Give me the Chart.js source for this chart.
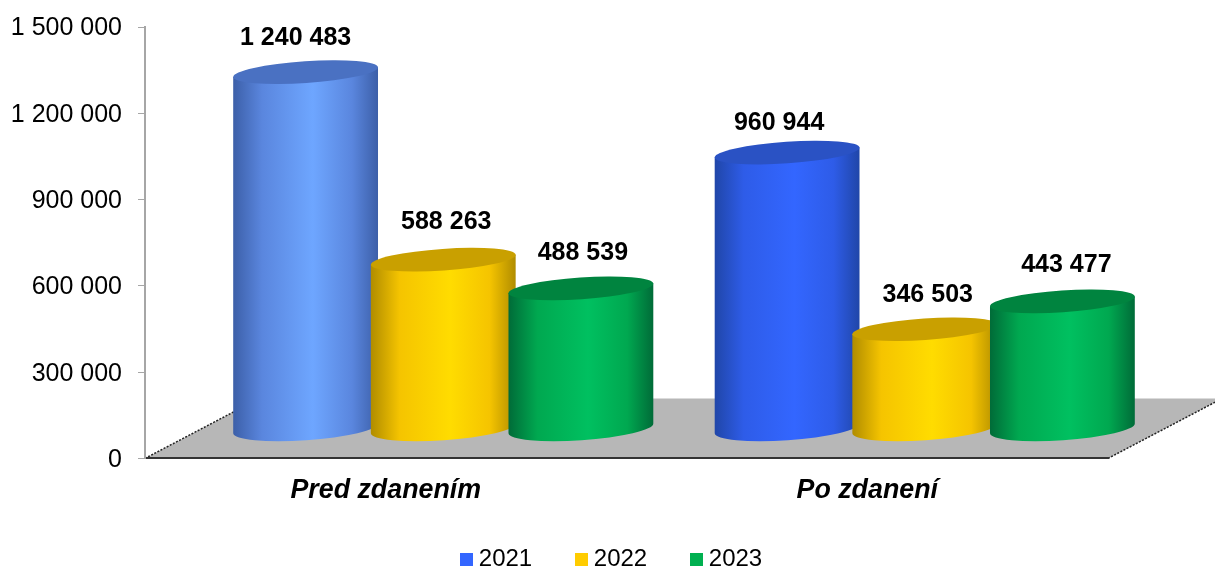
<!DOCTYPE html>
<html>
<head>
<meta charset="utf-8">
<style>html,body{margin:0;padding:0;background:#fff}#wrap{width:1215px;height:569px;position:relative}</style>
<script src="https://cdn.jsdelivr.net/npm/chart.js@4/dist/chart.umd.min.js"></script>
</head>
<body>
<div id="wrap"><canvas id="c" width="1215" height="569"></canvas></div>
<script>
const categories = ['Pred zdanením', 'Po zdanení'];
const seriesNames = ['2021', '2022', '2023'];
const values2021 = [1240483, 960944];
const values2022 = [588263, 346503];
const values2023 = [488539, 443477];
const yTicks = [0, 300000, 600000, 900000, 1200000, 1500000];

const FONT = '"Liberation Sans", Arial, sans-serif';
const fmt = v => String(v).replace(/\B(?=(\d{3})+$)/g, ' ');

const palettes = [
  [{edge:'#3c5fa8',shade:'#5a86de',mid:'#6ea6ff',top:'#4a71c2',flat:'#6699ff'},
   {edge:'#2046a8',shade:'#2e5ce8',mid:'#3366ff',top:'#2a52c4',flat:'#3366ff'}],
  [{edge:'#b08c00',shade:'#f5c400',mid:'#ffdc00',top:'#c9a000',flat:'#ffcc00'},
   {edge:'#b08c00',shade:'#f5c400',mid:'#ffdc00',top:'#c9a000',flat:'#ffcc00'}],
  [{edge:'#006b38',shade:'#00a850',mid:'#00c060',top:'#00843f',flat:'#00b050'},
   {edge:'#006b38',shade:'#00a850',mid:'#00c060',top:'#00843f',flat:'#00b050'}]
];
const legendColors = ['#3366ff', '#ffcc00', '#00b050'];

const DX = 57.5, DY = -29.5, MINOR = 10.8, TILT = -3.9 * Math.PI / 180;
const FLOOR_BACK = 60, FLOOR_SLOPE = 0.525;
const labelNudge = [[[-10,-34],[-8,-29]],[[3,-38],[3,-34]],[[2,-35],[4,-36]]];

function swatch(color) {
  const s = document.createElement('canvas');
  s.width = 13; s.height = 13;
  const g = s.getContext('2d');
  g.fillStyle = color; g.fillRect(0, 0, 13, 13);
  return s;
}
const swatches = legendColors.map(swatch);

function cylinder(ctx, el, pal) {
  const cx = el.x + DX, a = el.width / 2;
  const topY = el.y + DY, baseY = el.base + DY;
  const ex = a * Math.cos(TILT), ey = a * Math.sin(TILT);
  const g = ctx.createLinearGradient(cx - a, 0, cx + a, 0);
  g.addColorStop(0, pal.edge);
  g.addColorStop(0.2, pal.shade);
  g.addColorStop(0.55, pal.mid);
  g.addColorStop(0.82, pal.shade);
  g.addColorStop(1, pal.edge);
  ctx.fillStyle = g;
  ctx.beginPath();
  ctx.moveTo(cx - ex, topY - ey);
  ctx.lineTo(cx - ex, baseY - ey);
  ctx.ellipse(cx, baseY, a, MINOR + 1, TILT, Math.PI, 0, true);
  ctx.lineTo(cx + ex, topY + ey);
  ctx.closePath();
  ctx.fill();
  ctx.fillStyle = pal.top;
  ctx.beginPath();
  ctx.ellipse(cx, topY, a, MINOR, TILT, 0, Math.PI * 2);
  ctx.fill();
}

const scene = {
  id: 'scene',
  beforeDraw(chart) {
    const {ctx, chartArea: ca} = chart;
    const y0 = chart.scales.y.getPixelForValue(0);
    const xL = ca.left, xR = ca.right;
    const backY = y0 - FLOOR_BACK, run = FLOOR_BACK / FLOOR_SLOPE;
    ctx.save();
    ctx.fillStyle = '#b7b7b7';
    ctx.beginPath();
    ctx.moveTo(xL, y0);
    ctx.lineTo(xL + run, backY);
    ctx.lineTo(xR + run, backY);
    ctx.lineTo(xR, y0);
    ctx.closePath();
    ctx.fill();
    ctx.strokeStyle = '#222';
    ctx.lineWidth = 1.5;
    ctx.setLineDash([2, 1.5]);
    ctx.beginPath();
    ctx.moveTo(xL, y0); ctx.lineTo(xL + run, backY);
    ctx.moveTo(xR, y0); ctx.lineTo(xR + run, backY);
    ctx.stroke();
    ctx.restore();
  },
  beforeDatasetsDraw(chart) {
    const ctx = chart.ctx;
    ctx.save();
    chart.data.datasets.forEach((ds, d) => {
      chart.getDatasetMeta(d).data.forEach((el, i) => cylinder(ctx, el, palettes[d][i]));
    });
    ctx.fillStyle = '#000';
    ctx.font = 'bold 25px ' + FONT;
    ctx.textAlign = 'center';
    ctx.textBaseline = 'middle';
    chart.data.datasets.forEach((ds, d) => {
      chart.getDatasetMeta(d).data.forEach((el, i) => {
        const [nx, ny] = labelNudge[d][i];
        ctx.fillText(fmt(ds.data[i]), el.x + DX + nx, el.y + DY + ny);
      });
    });
    ctx.restore();
    return false;
  },
  afterLayout(chart) {
    const lg = chart.legend;
    lg.left += 60; lg.right += 60;
    lg.top += 12; lg.bottom += 12;
    chart.scales.x.bottom += 50;
  }
};

const mk = (d, vals) => ({
  label: seriesNames[d],
  data: vals,
  backgroundColor: palettes[d].map(p => p.flat),
  categoryPercentage: 0.8576,
  barPercentage: 1.0545
});

new Chart(document.getElementById('c'), {
  type: 'bar',
  data: {
    labels: categories,
    datasets: [mk(0, values2021), mk(1, values2022), mk(2, values2023)]
  },
  options: {
    responsive: false,
    animation: false,
    layout: {padding: {top: 27, right: 107, left: 0, bottom: 0}},
    plugins: {
      tooltip: {enabled: false},
      legend: {
        position: 'bottom',
        labels: {
          usePointStyle: true,
          boxWidth: 1,
          boxHeight: 13,
          padding: 48.6,
          color: '#000',
          font: {family: FONT, size: 24},
          generateLabels: () => seriesNames.map((n, i) => ({
            text: n, pointStyle: swatches[i], fillStyle: legendColors[i],
            strokeStyle: legendColors[i], lineWidth: 0, datasetIndex: i, hidden: false, fontColor: '#000'
          }))
        }
      }
    },
    scales: {
      x: {
        grid: {display: false, drawTicks: false},
        border: {color: '#333', width: 2},
        ticks: {color: '#000', padding: 16, maxRotation: 0, font: {family: FONT, size: 26.8, weight: 'bold', style: 'italic'}},
        afterFit(s) { s.height = 28; }
      },
      y: {
        min: 0, max: 1500000,
        afterBuildTicks(s) { s.ticks = yTicks.map(v => ({value: v})); },
        afterFit(s) { s.width = 145; s.paddingTop = 0; s.paddingBottom = 0; },
        grid: {drawOnChartArea: false, drawTicks: true, tickLength: 7, tickColor: '#a6a6a6', lineWidth: 1},
        border: {color: '#a6a6a6', width: 2},
        ticks: {color: '#000', padding: 16, labelOffset: 1.5, font: {family: FONT, size: 25}, callback: v => fmt(v)}
      }
    }
  },
  plugins: [scene]
});
</script>
</body>
</html>
